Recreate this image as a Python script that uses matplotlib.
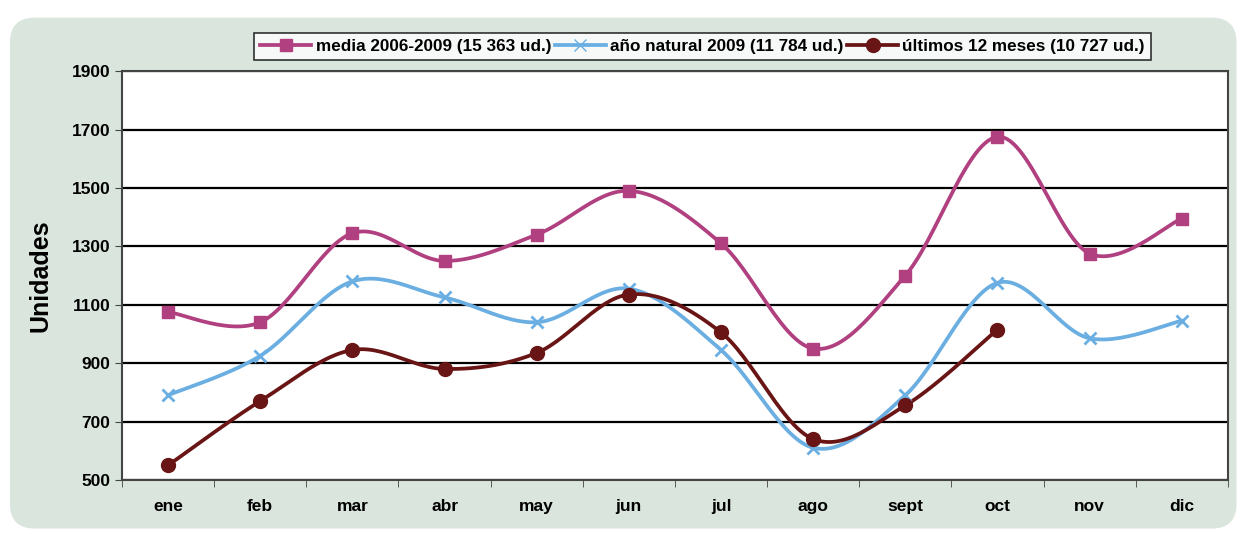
import numpy as np
import matplotlib.pyplot as plt
from matplotlib.patches import FancyBboxPatch

plt.rcParams['font.family'] = ['Liberation Sans', 'DejaVu Sans']
plt.rcParams['font.weight'] = 'bold'

meses = ['ene', 'feb', 'mar', 'abr', 'may', 'jun', 'jul', 'ago', 'sept', 'oct', 'nov', 'dic']
media = [1075, 1040, 1345, 1250, 1340, 1490, 1310, 950, 1200, 1675, 1275, 1395]
natural = [790, 925, 1180, 1125, 1040, 1155, 945, 610, 790, 1175, 985, 1045]
ultimos = [550, 770, 945, 880, 935, 1135, 1005, 640, 755, 1015]

nombres = ['media 2006-2009 (15 363 ud.)', 'año natural 2009 (11 784 ud.)',
           'últimos 12 meses (10 727 ud.)']


def suavizar(y, n=30):
    # curva tipo Catmull-Rom, como las líneas suavizadas de Excel
    y = np.asarray(y, dtype=float)
    x = np.arange(len(y), dtype=float)
    p = np.column_stack([x, y])
    p = np.vstack([p[0], p, p[-1]])
    out = []
    for i in range(1, len(p) - 2):
        p0, p1, p2, p3 = p[i - 1], p[i], p[i + 1], p[i + 2]
        t = np.linspace(0, 1, n)[:, None]
        c = 0.5 * ((2 * p1) + (-p0 + p2) * t + (2 * p0 - 5 * p1 + 4 * p2 - p3) * t ** 2
                   + (-p0 + 3 * p1 - 3 * p2 + p3) * t ** 3)
        out.append(c)
    c = np.vstack(out)
    return c[:, 0], c[:, 1]


fig = plt.figure(figsize=(12.39, 5.35), dpi=100)
fig.patch.set_facecolor('white')
fondo = FancyBboxPatch((0.008, 0.012), 0.99, 0.955, boxstyle='round,pad=0,rounding_size=0.02',
                       transform=fig.transFigure, facecolor='#dae6dd', edgecolor='none',
                       mutation_aspect=12.39 / 5.35, zorder=-5)
fig.add_artist(fondo)

ax = fig.add_axes([0.0985, 0.103, 0.8925, 0.764])
ax.set_facecolor('white')
ax.set_zorder(2)

series = [
    (media, '#b0407f', 's', 8, 2.7),
    (natural, '#6aaee2', 'x', 9, 2.7),
    (ultimos, '#6a1515', 'o', 10, 2.7),
]
for (vals, col, mk, ms, lw), nom in zip(series, nombres):
    xs, ys = suavizar(vals)
    ax.plot(xs, ys, color=col, lw=lw, zorder=3)
    ax.plot(range(len(vals)), vals, ls='none', marker=mk, ms=ms, color=col,
            mew=2 if mk == 'x' else 1, zorder=4)
    ax.plot([], [], color=col, lw=lw, marker=mk, ms=ms, label=nom)

ax.set_xlim(-0.5, 11.5)
ax.set_ylim(500, 1900)
ax.set_yticks(range(500, 2000, 200))
ax.grid(axis='y', color='black', lw=1.6, zorder=1)
ax.set_xticks(range(12))
ax.set_xticklabels(meses, fontsize=12.5, fontweight='bold')
ax.set_xticks(np.arange(-0.5, 12, 1), minor=True)
ax.tick_params(axis='x', which='major', length=0, pad=14)
ax.tick_params(axis='x', which='minor', length=5, color='#444444')
ax.tick_params(axis='y', labelsize=12.5, length=5, color='#444444')
for lab in ax.get_yticklabels():
    lab.set_fontweight('bold')
ax.set_ylabel('Unidades', fontsize=18, fontweight='bold', labelpad=14)
for s in ax.spines.values():
    s.set_color('#444444')
    s.set_linewidth(1.5)

leg = fig.legend(loc='center', bbox_to_anchor=(0.567, 0.913), ncol=3, frameon=True,
                 fancybox=False, edgecolor='black', handlelength=3.0,
                 handletextpad=0.25, columnspacing=0.2, borderpad=0.35,
                 prop={'weight': 'bold', 'size': 12.3})
leg.get_frame().set_linewidth(1.2)
leg.set_zorder(5)

fig.savefig('out.png', dpi=100)
